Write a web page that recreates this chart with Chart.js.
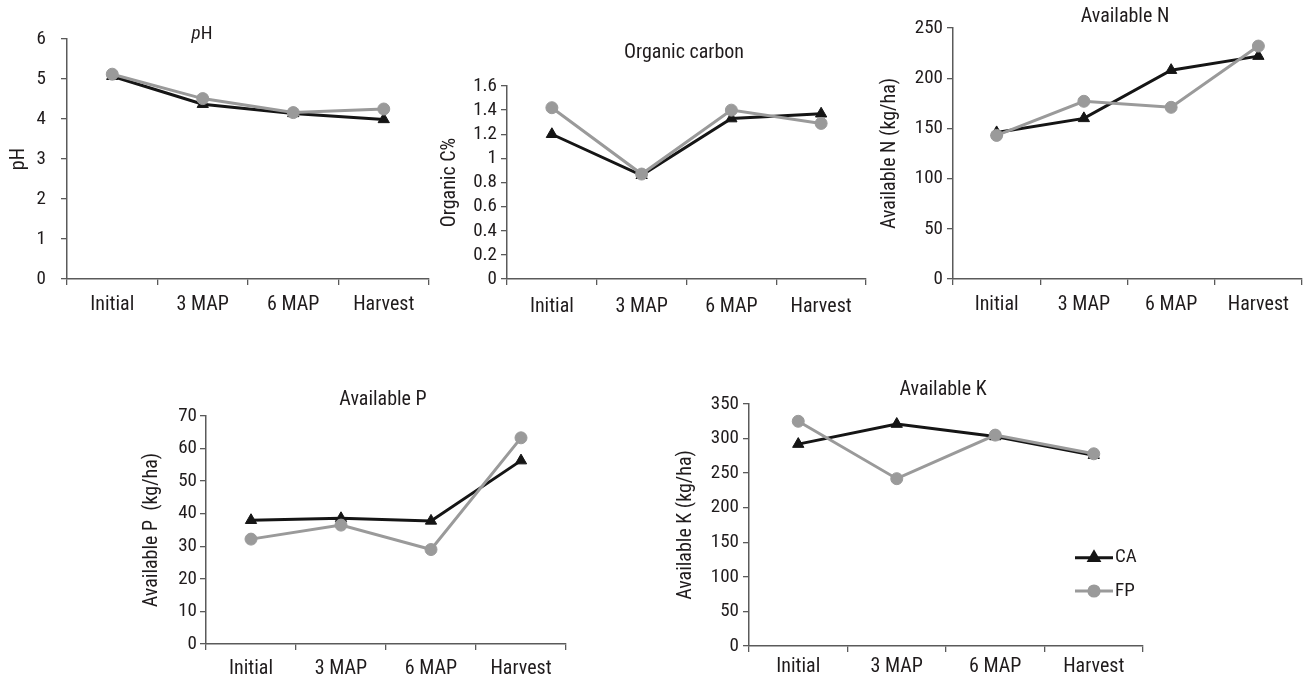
<!DOCTYPE html>
<html><head><meta charset="utf-8">
<script src="https://cdn.jsdelivr.net/npm/chart.js@4.4.1/dist/chart.umd.min.js"></script>
<style>
html,body{margin:0;padding:0;background:#fff;width:1309px;height:682px;overflow:hidden;}
canvas{position:absolute;}
</style></head><body>
<canvas id="c1"></canvas><canvas id="c2"></canvas><canvas id="c3"></canvas><canvas id="c4"></canvas><canvas id="c5"></canvas>
<script>
// ---------- data ----------
const categories = ['Initial', '3 MAP', '6 MAP', 'Harvest'];
const seriesNames = ['CA', 'FP'];

const phCA = [5.07, 4.37, 4.14, 3.99];
const phFP = [5.12, 4.51, 4.16, 4.25];
const phTicks = [0, 1, 2, 3, 4, 5, 6];

const ocCA = [1.20, 0.86, 1.33, 1.37];
const ocFP = [1.42, 0.87, 1.40, 1.29];
const ocTicks = [0, 0.2, 0.4, 0.6, 0.8, 1, 1.2, 1.4, 1.6];

const nCA = [146, 160, 208, 222];
const nFP = [143, 177, 171, 232];
const nTicks = [0, 50, 100, 150, 200, 250];

const pCA = [38.0, 38.6, 37.8, 56.3];
const pFP = [32.2, 36.5, 29.0, 63.3];
const pTicks = [0, 10, 20, 30, 40, 50, 60, 70];

const kCA = [292, 321, 303, 276];
const kFP = [325, 242, 305, 278];
const kTicks = [0, 50, 100, 150, 200, 250, 300, 350];

// ---------- styling / layout ----------
const FONT = "'Roboto Condensed', 'Liberation Sans Narrow', 'Arial Narrow', 'DejaVu Sans Condensed', 'Liberation Sans', Arial, sans-serif";
const TEXT = '#1f1b1c';
const AXIS = '#5a5a5a';
const CA_COLOR = '#151515';
const FP_COLOR = '#9a9a9a';

const panels = [
  {id:'c1', title:[{t:'p', italic:true},{t:'H'}], tx:202, ty:34, tsize:19, yTitle:'pH',
   ca:phCA, fp:phFP, ticks:phTicks, L:67, R:429, T:39, B:279, top:0, yTitleX:19, yPad:15, xPad:8},
  {id:'c2', title:[{t:'Organic carbon'}], tx:684, ty:53, tsize:20, yTitle:'Organic C%',
   ca:ocCA, fp:ocFP, ticks:ocTicks, L:507, R:866, T:86, B:279, top:36, yTitleX:450, yPad:4, xPad:10},
  {id:'c3', title:[{t:'Available N'}], tx:1125, ty:17, tsize:20, yTitle:'Available N (kg/ha)',
   ca:nCA, fp:nFP, ticks:nTicks, L:953, R:1302, T:28, B:279, top:0, yTitleX:890, yPad:4, xPad:8},
  {id:'c4', title:[{t:'Available P'}], tx:383, ty:400, tsize:20, yTitle:'Available P  (kg/ha)',
   ca:pCA, fp:pFP, ticks:pTicks, L:206, R:566, T:416, B:644, top:382, yTitleX:152, yPad:3, xPad:7},
  {id:'c5', title:[{t:'Available K'}], tx:943, ty:390, tsize:20, yTitle:'Available K (kg/ha)',
   ca:kCA, fp:kFP, ticks:kTicks, L:749, R:1143, T:404, B:646, top:372, yTitleX:686, yPad:4, xPad:3, legend:true}
];

const panelTitle = {
  id: 'panelTitle',
  afterDraw(chart, args, o) {
    if (!o || !o.segments) return;
    const ctx = chart.ctx;
    ctx.save();
    ctx.fillStyle = TEXT;
    ctx.textBaseline = 'middle';
    ctx.textAlign = 'left';
    const fonts = o.segments.map(s => (s.italic ? 'italic ' : '') + o.size + 'px ' + FONT);
    let total = 0;
    const widths = o.segments.map((s, i) => { ctx.font = fonts[i]; const w = ctx.measureText(s.t).width; total += w; return w; });
    let x = o.x - o.ox - total / 2;
    o.segments.forEach((s, i) => { ctx.font = fonts[i]; ctx.fillText(s.t, x, o.y - o.oy); x += widths[i]; });
    ctx.restore();
  }
};

const seriesKey = {
  id: 'seriesKey',
  afterDraw(chart, args, o) {
    if (!o || !o.show) return;
    const ctx = chart.ctx;
    ctx.save();
    chart.data.datasets.slice().sort((a, b) => a.keyIndex - b.keyIndex).forEach((ds, i) => {
      const y = o.y[i] - o.oy;
      const x0 = o.x0 - o.ox, x1 = o.x1 - o.ox;
      ctx.strokeStyle = ds.borderColor;
      ctx.lineWidth = ds.borderWidth;
      ctx.beginPath(); ctx.moveTo(x0, y); ctx.lineTo(x1, y); ctx.stroke();
      ctx.fillStyle = ds.pointBackgroundColor;
      ctx.strokeStyle = ds.pointBorderColor;
      Chart.helpers.drawPoint(ctx, {pointStyle: ds.pointStyle, radius: ds.pointRadius * 0.85, rotation: 0, borderWidth: 1}, (x0 + x1) / 2, y);
      ctx.fillStyle = TEXT;
      ctx.font = o.size + 'px ' + FONT;
      ctx.textBaseline = 'middle';
      ctx.textAlign = 'left';
      ctx.fillText(ds.label, x1 + 2, y);
    });
    ctx.restore();
  }
};

const fmt = v => String(Math.round(v * 100) / 100);

panels.forEach(p => {
  const Wy = p.L - p.yTitleX + 12;
  const Hx = 46;
  const padR = 14;
  const left = p.L - Wy;
  const width = p.R + padR - left;
  const height = p.B + Hx - p.top;
  const cv = document.getElementById(p.id);
  cv.width = width; cv.height = height;
  cv.style.left = left + 'px'; cv.style.top = p.top + 'px';
  cv.style.width = width + 'px'; cv.style.height = height + 'px';

  new Chart(cv, {
    type: 'line',
    data: {
      labels: categories,
      datasets: [
        {label: seriesNames[0], keyIndex: 0, data: p.ca, order: 1, borderColor: CA_COLOR, borderWidth: 3,
         pointStyle: 'triangle', pointRadius: 6.5, pointBackgroundColor: CA_COLOR, pointBorderColor: CA_COLOR,
         pointBorderWidth: 1, tension: 0, fill: false},
        {label: seriesNames[1], keyIndex: 1, data: p.fp, order: 0, borderColor: FP_COLOR, borderWidth: 3,
         pointStyle: 'circle', pointRadius: 6, pointBackgroundColor: FP_COLOR, pointBorderColor: FP_COLOR,
         pointBorderWidth: 1, tension: 0, fill: false}
      ]
    },
    plugins: [panelTitle, seriesKey],
    options: {
      responsive: false,
      animation: false,
      devicePixelRatio: 1,
      events: [],
      layout: {padding: {left: 0, top: p.T - p.top, right: padR, bottom: 0}},
      plugins: {
        legend: {display: false},
        tooltip: {enabled: false},
        title: {display: false},
        panelTitle: {segments: p.title, x: p.tx, y: p.ty, size: p.tsize, ox: left, oy: p.top},
        seriesKey: {show: !!p.legend, x0: 1075, x1: 1113, y: [557.7, 591], size: 19, ox: left, oy: p.top}
      },
      scales: {
        x: {
          type: 'category',
          offset: true,
          grid: {offset: true, drawOnChartArea: false, drawTicks: true, tickLength: 6, color: AXIS, lineWidth: 1.3},
          border: {display: true, color: AXIS, width: 1.5},
          ticks: {color: TEXT, font: {family: FONT, size: 20}, padding: p.xPad, maxRotation: 0, autoSkip: false},
          afterFit: s => { s.height = Hx; }
        },
        y: {
          type: 'linear',
          min: p.ticks[0],
          max: p.ticks[p.ticks.length - 1],
          afterBuildTicks: s => { s.ticks = p.ticks.map(v => ({value: v})); },
          grid: {drawOnChartArea: false, drawTicks: true, tickLength: 6, color: AXIS, lineWidth: 1.3},
          border: {display: true, color: AXIS, width: 1.5},
          ticks: {color: TEXT, font: {family: FONT, size: 19}, padding: p.yPad, autoSkip: false, callback: v => fmt(v)},
          title: {display: true, text: p.yTitle, color: TEXT, font: {family: FONT, size: 20}, padding: {top: 0, bottom: 0}},
          afterFit: s => { s.width = Wy; }
        }
      }
    }
  });
});
</script>
</body></html>
